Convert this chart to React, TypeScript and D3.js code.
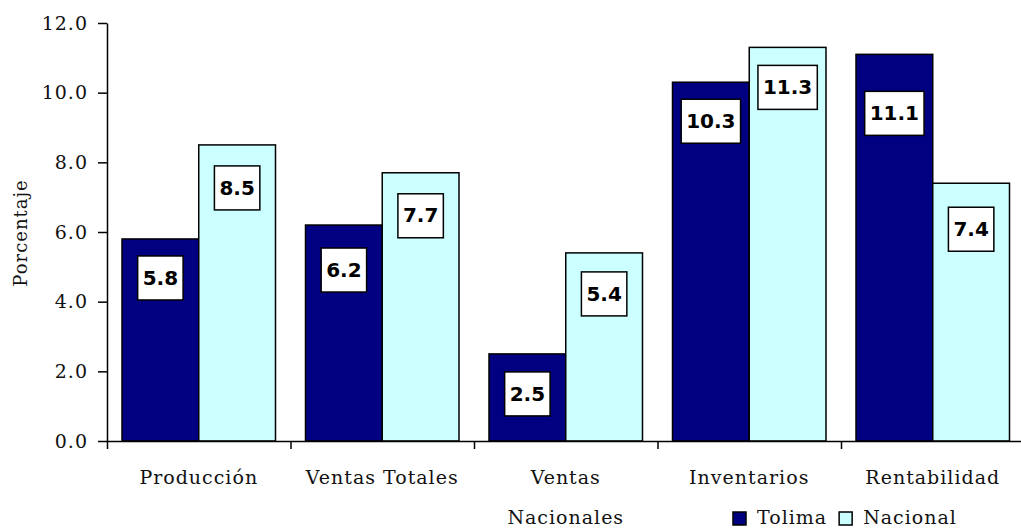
import { useEffect, useRef } from "react";
import * as d3 from "d3";

// Categories and series (percent)
const categories = ["Producción", "Ventas Totales", "Ventas Nacionales", "Inventarios", "Rentabilidad"];
const seriesNames = ["Tolima", "Nacional"];
const tolima = [5.8, 6.2, 2.5, 10.3, 11.1];
const nacional = [8.5, 7.7, 5.4, 11.3, 7.4];
const yTicks = [0, 2, 4, 6, 8, 10, 12];

// label box nudges below bar top (px), as placed in the original
const labelNudge = [
  [17, 23, 18, 17, 37],
  [21, 21, 19, 18, 24],
];

const W = 1021;
const H = 528;
const colors = ["#000080", "#CCFFFF"];
const serif = "'DejaVu Serif', serif";
const sans = "'DejaVu Sans', sans-serif";

export default function App() {
  const svgRef = useRef<SVGSVGElement>(null);

  useEffect(() => {
    if (!svgRef.current) return;
    const svg = d3.select(svgRef.current);
    svg.selectAll("*").remove();

    const left = 107;
    const groupW = 183.5;
    const x = d3.scaleBand<string>().domain(categories).range([left, left + groupW * categories.length]);
    const xs = d3.scaleBand<string>().domain(seriesNames).range([15, groupW - 15]);
    const y = d3.scaleLinear().domain([0, 12]).range([441, 23]);
    const xb = d3.scaleLinear().domain([0, categories.length]).range([left, left + groupW * categories.length]);

    const data = [tolima, nacional];

    // ── Bars ────────────────────────────────────────────────
    data.forEach((vals, si) => {
      svg.append("g")
        .selectAll("rect")
        .data(vals)
        .join("rect")
        .attr("x", (_, i) => x(categories[i])! + xs(seriesNames[si])!)
        .attr("y", (d) => y(d))
        .attr("width", xs.bandwidth())
        .attr("height", (d) => y(0) - y(d))
        .attr("fill", colors[si])
        .attr("stroke", "#000")
        .attr("stroke-width", 1.5);
    });

    // ── Axes ────────────────────────────────────────────────
    svg.append("g")
      .attr("transform", `translate(${left},0)`)
      .call(d3.axisLeft(y).tickValues(yTicks).tickFormat(d3.format(".1f")).tickSize(9).tickSizeOuter(0).tickPadding(10))
      .call((ax) => ax.select(".domain").attr("stroke-width", 1.5))
      .call((ax) => ax.selectAll(".tick line").attr("stroke-width", 1.5))
      .call((ax) => ax.selectAll("text")
        .attr("font-family", serif).attr("font-size", 19).attr("letter-spacing", 1).attr("fill", "#111"));

    svg.append("g")
      .attr("transform", `translate(0,${y(0)})`)
      .call(d3.axisBottom(xb).tickValues(d3.range(categories.length + 1)).tickFormat(() => "").tickSize(8).tickSizeOuter(0))
      .call((ax) => ax.select(".domain").attr("stroke-width", 1.5))
      .call((ax) => ax.selectAll(".tick line").attr("stroke-width", 1.5));

    // category labels, wrapped when wider than the group
    const catText = svg.append("g")
      .selectAll("text")
      .data(categories)
      .join("text")
      .attr("x", (d) => x(d)! + groupW / 2)
      .attr("y", y(0) + 43)
      .attr("text-anchor", "middle")
      .attr("font-family", serif)
      .attr("font-size", 19)
      .attr("letter-spacing", 1)
      .attr("fill", "#111")
      .text((d) => d);

    catText.each(function (d) {
      const t = d3.select(this);
      if ((this as SVGTextElement).getComputedTextLength() > groupW - 10) {
        const words = d.split(" ");
        t.text(null);
        words.forEach((w, i) => {
          t.append("tspan")
            .attr("x", x(d)! + groupW / 2)
            .attr("dy", i === 0 ? 0 : 40)
            .text(w);
        });
      }
    });

    // y title
    svg.append("text")
      .attr("transform", `translate(27,233) rotate(-90)`)
      .attr("text-anchor", "middle")
      .attr("font-family", serif)
      .attr("font-size", 18)
      .attr("letter-spacing", 1)
      .attr("fill", "#111")
      .text("Porcentaje");

    // ── Value labels ────────────────────────────────────────
    data.forEach((vals, si) => {
      vals.forEach((v, i) => {
        const cx = x(categories[i])! + xs(seriesNames[si])! + xs.bandwidth() / 2;
        const top = y(v) + labelNudge[si][i];
        const g = svg.append("g");
        const txt = g.append("text")
          .attr("x", cx)
          .attr("y", top + 22)
          .attr("dy", "0.33em")
          .attr("text-anchor", "middle")
          .attr("font-family", sans)
          .attr("font-weight", "bold")
          .attr("font-size", 20)
          .attr("fill", "#000")
          .text(d3.format(".1f")(v));
        const tw = (txt.node() as SVGTextElement).getComputedTextLength();
        g.insert("rect", "text")
          .attr("x", cx - tw / 2 - 5)
          .attr("y", top)
          .attr("width", tw + 10)
          .attr("height", 44)
          .attr("fill", "#fff")
          .attr("stroke", "#000")
          .attr("stroke-width", 1.5);
      });
    });

    // ── Legend ──────────────────────────────────────────────
    const legend = svg.append("g").attr("transform", "translate(733,512)");
    let lx = 0;
    seriesNames.forEach((name, si) => {
      legend.append("rect")
        .attr("x", lx).attr("y", 0).attr("width", 13).attr("height", 13)
        .attr("fill", colors[si]).attr("stroke", "#000").attr("stroke-width", 1.5);
      const t = legend.append("text")
        .attr("x", lx + 24).attr("y", 12)
        .attr("font-family", serif).attr("font-size", 19).attr("letter-spacing", 1)
        .attr("fill", "#111")
        .text(name);
      lx += 24 + (t.node() as SVGTextElement).getComputedTextLength() + 12;
    });
  }, []);

  return (
    <div style={{ position: "absolute", left: 0, top: 0, width: W, height: H, background: "#fff" }}>
      <svg ref={svgRef} width={W} height={H} style={{ display: "block", overflow: "hidden" }} />
    </div>
  );
}
